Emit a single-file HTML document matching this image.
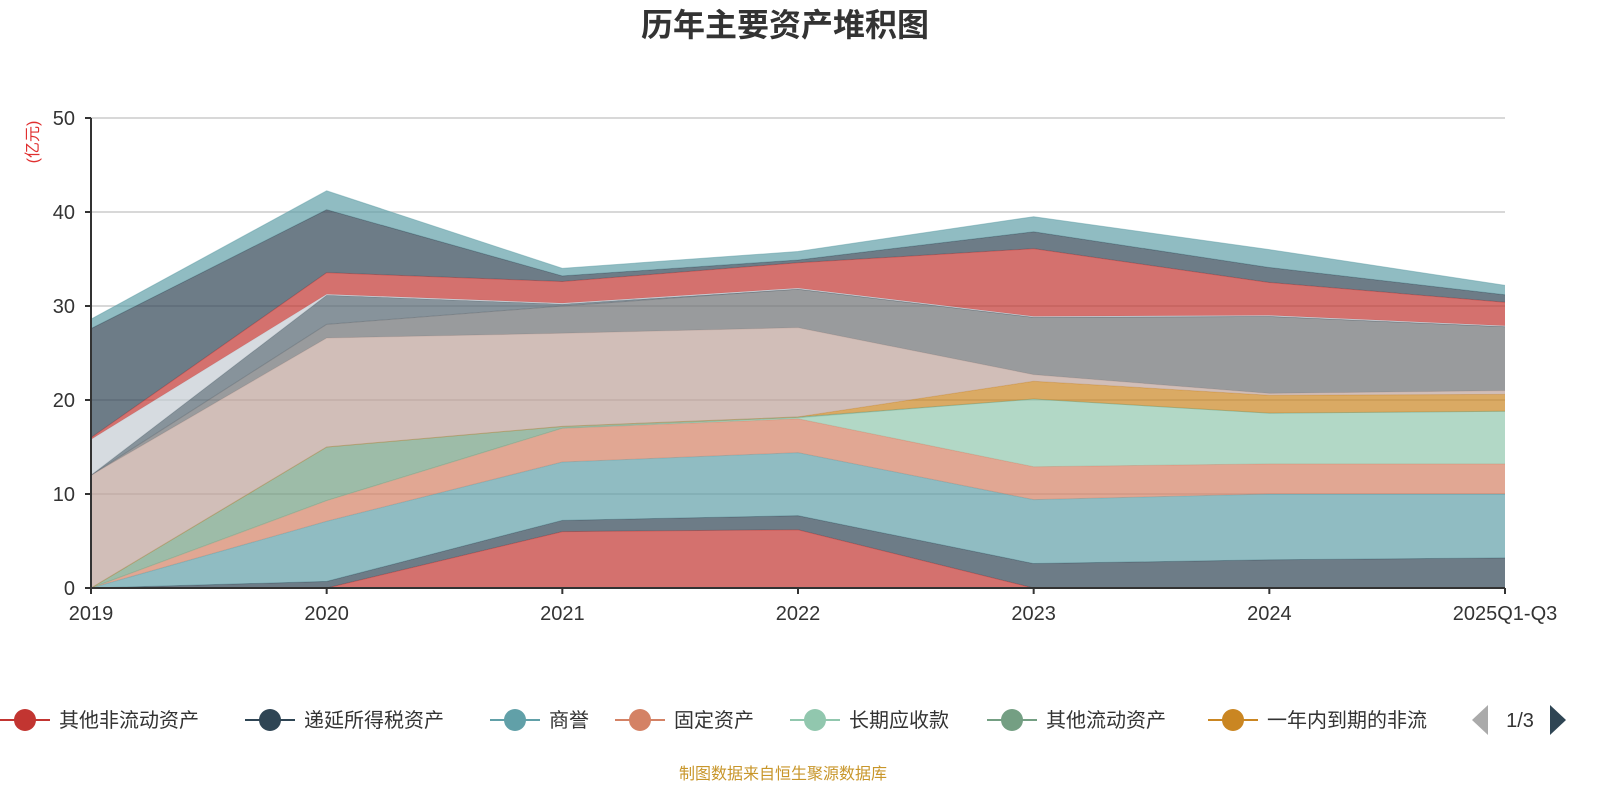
<!DOCTYPE html>
<html><head><meta charset="utf-8"><style>
body{margin:0;background:#fff;font-family:"Liberation Sans","Noto Sans CJK SC",sans-serif;}
svg text{font-family:"Liberation Sans","Noto Sans CJK SC",sans-serif;}
</style></head><body>
<svg id="chart" width="1600" height="800" xmlns="http://www.w3.org/2000/svg">
<text x="785" y="36" text-anchor="middle" font-size="32" font-weight="bold" fill="#333">历年主要资产堆积图</text>
<text transform="translate(38,142) rotate(-90)" text-anchor="middle" font-size="16" fill="#e03030">(亿元)</text>
<g id="grid"></g><g id="areas"></g><g id="axes"></g><g id="legend"></g>
<text x="783" y="779" text-anchor="middle" font-size="16" fill="#c8962a">制图数据来自恒生聚源数据库</text>
</svg>
<script>
const categories=["2019","2020","2021","2022","2023","2024","2025Q1-Q3"];
const yTicks=[0,10,20,30,40,50];
const seriesNames=["其他非流动资产","递延所得税资产","商誉","固定资产","长期应收款","其他流动资产","一年内到期的非流","存货","应收账款","合同资产","预付款项","货币资金","交易性金融资产","应收票据"];
const seriesColors=["#c23531","#2f4554","#61a0a8","#d48265","#91c7ae","#749f83","#ca8622","#bda29a","#6e7074","#546570","#c4ccd3","#c23531","#2f4554","#61a0a8"];
const s0=[0,0,6.0,6.2,0,0,0];
const s1=[0,0.7,1.2,1.5,2.6,3.0,3.2];
const s2=[0,6.4,6.2,6.7,6.8,7.0,6.8];
const s3=[0,2.2,3.6,3.6,3.5,3.2,3.2];
const s4=[0,0,0,0.1,7.2,5.4,5.6];
const s5=[0,5.7,0.2,0.1,0,0,0];
const s6=[0,0,0,0,1.9,1.9,1.8];
const s7=[12,11.6,9.9,9.5,0.7,0.2,0.4];
const s8=[0,1.45,2.9,4.1,6.1,8.2,6.8];
const s9=[0,3.1,0.2,0,0,0,0];
const s10=[3.8,0.1,0.1,0.1,0.1,0.1,0.1];
const s11=[0.2,2.3,2.3,2.7,7.2,3.5,2.5];
const s12=[11.6,6.7,0.6,0.3,1.8,1.6,0.8];
const s13=[1.0,2.0,0.8,0.9,1.6,1.9,1.0];
const seriesValues=[s0,s1,s2,s3,s4,s5,s6,s7,s8,s9,s10,s11,s12,s13];
const legendPage="1/3";

const NS="http://www.w3.org/2000/svg";
const X0=91,X1=1505,Y0=588,Y1=118,YMAX=50;
const xs=i=>X0+(X1-X0)*i/(categories.length-1);
const ys=v=>Y0-(Y0-Y1)*v/YMAX;
function mk(t,a,p){const e=document.createElementNS(NS,t);for(const k in a)e.setAttribute(k,a[k]);p.appendChild(e);return e;}
const grid=document.getElementById('grid'),areas=document.getElementById('areas'),axes=document.getElementById('axes'),legend=document.getElementById('legend');
yTicks.forEach(t=>{
 if(t>0){const l=mk('line',{x1:X0,x2:X1,y1:ys(t),y2:ys(t),stroke:'#ccc','stroke-width':1.5},grid);
 
 }
 const tk=mk('line',{x1:X0-6,x2:X0,y1:ys(t),y2:ys(t),stroke:'#333','stroke-width':2},axes);
 
 
 const tx=mk('text',{x:X0-16,y:ys(t)+7,'text-anchor':'end','font-size':20,fill:'#333'},axes);tx.textContent=t;
 
 
});
let base=categories.map(()=>0);
seriesValues.forEach((vals,si)=>{
 const top=base.map((b,i)=>b+vals[i]);
 let d='M'+categories.map((c,i)=>xs(i)+','+ys(top[i])).join('L');
 for(let i=categories.length-1;i>=0;i--)d+='L'+xs(i)+','+ys(base[i]);
 d+='Z';
 const p=mk('path',{d:d,fill:seriesColors[si],'fill-opacity':0.7,stroke:'none'},areas);
 
 
 const ln=mk('polyline',{points:categories.map((c,i)=>xs(i)+','+ys(top[i])).join(' '),fill:'none',stroke:seriesColors[si],'stroke-opacity':0.5,'stroke-width':1},areas);
 
 
 base=top;
});
const ya=mk('line',{x1:X0,x2:X0,y1:Y1,y2:Y0,stroke:'#333','stroke-width':2},axes);


const xa=mk('line',{x1:X0,x2:X1,y1:Y0,y2:Y0,stroke:'#333','stroke-width':2},axes);


categories.forEach((c,i)=>{
 const tk=mk('line',{x1:xs(i),x2:xs(i),y1:Y0,y2:Y0+6,stroke:'#333','stroke-width':2},axes);
 
 
 const tx=mk('text',{x:xs(i),y:620,'text-anchor':'middle','font-size':20,fill:'#333'},axes);tx.textContent=c;
 
 
});
const lx=[0,245,490,615,790,987,1208];
for(let i=0;i<7;i++){
 const g=mk('g',{},legend);
 
 
 mk('line',{x1:lx[i],x2:lx[i]+50,y1:720,y2:720,stroke:seriesColors[i],'stroke-width':2},g);
 mk('circle',{cx:lx[i]+25,cy:720,r:11,fill:seriesColors[i]},g);
 const t=mk('text',{x:lx[i]+59,y:727,'font-size':20,fill:'#333'},g);t.textContent=seriesNames[i];
}
const pl=mk('path',{d:'M1472,720L1488,705L1488,735Z',fill:'#aaa'},legend);


const pt=mk('text',{x:1520,y:727,'text-anchor':'middle','font-size':20,fill:'#333'},legend);pt.textContent=legendPage;


const pn=mk('path',{d:'M1566,720L1550,705L1550,735Z',fill:'#2f4554'},legend);


</script>
</body></html>
